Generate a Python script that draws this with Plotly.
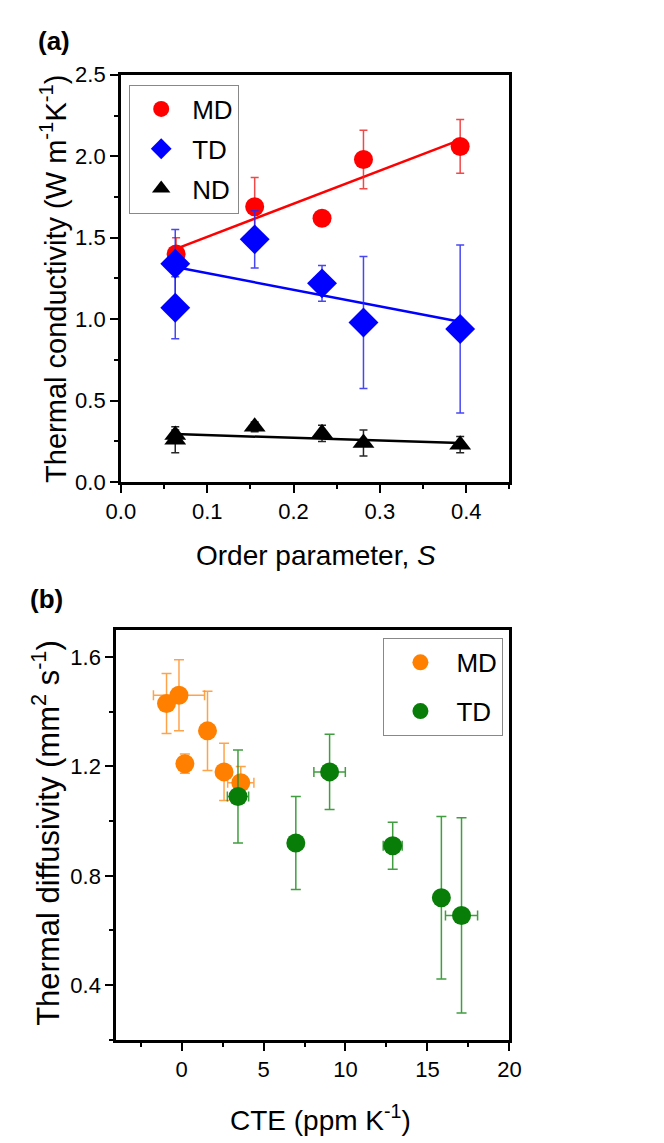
import plotly.graph_objects as go

# ---------------- Panel (a) data ----------------
md_s = [0.064, 0.155, 0.233, 0.281, 0.393]
md_k = [1.40, 1.69, 1.62, 1.98, 2.06]
md_k_err = [0.10, 0.18, 0.04, 0.18, 0.165]

td_s = [0.063, 0.063, 0.155, 0.233, 0.281, 0.393]
td_k = [1.34, 1.07, 1.49, 1.22, 0.98, 0.94]
td_k_err = [0.21, 0.19, 0.175, 0.11, 0.405, 0.515]

nd_s = [0.063, 0.063, 0.155, 0.233, 0.281, 0.393]
nd_k = [0.29, 0.26, 0.34, 0.30, 0.24, 0.23]
nd_k_err = [0.03, 0.08, 0.03, 0.05, 0.08, 0.05]

fit_s = [0.063, 0.393]
md_fit = [1.43, 2.10]
td_fit = [1.32, 0.985]
nd_fit = [0.295, 0.24]

# ---------------- Panel (b) data ----------------
md_cte = [-0.92, -0.16, 1.58, 0.20, 2.59, 3.61]
md_cte_err = [0.0, 1.56, 0.0, 0.0, 0.0, 0.80]
md_diff = [1.43, 1.46, 1.33, 1.21, 1.18, 1.14]
md_diff_err = [0.11, 0.13, 0.145, 0.035, 0.105, 0.06]

td_cte = [3.44, 6.97, 9.03, 12.88, 15.85, 17.08]
td_cte_err = [0.65, 0.0, 0.96, 0.58, 0.0, 0.98]
td_diff = [1.09, 0.92, 1.18, 0.91, 0.72, 0.655]
td_diff_err = [0.17, 0.17, 0.138, 0.086, 0.297, 0.357]

W, H = 664, 1143
RED, BLUE, BLACK = "#FF0000", "#0000FF", "#000000"
ORANGE, GREEN = "#FF8000", "#087D08"
REG = "Liberation Sans, Arial"

fig = go.Figure()

# fit lines (a)
for ys, c in [(md_fit, RED), (td_fit, BLUE), (nd_fit, BLACK)]:
    fig.add_trace(go.Scatter(x=fit_s, y=ys, mode="lines", line=dict(color=c, width=2.5),
                             showlegend=False, xaxis="x", yaxis="y", hoverinfo="skip"))

def eb(arr, color, w=4):
    return dict(type="data", array=arr, color=color, thickness=1.5, width=w, visible=True)

fig.add_trace(go.Scatter(x=md_s, y=md_k, mode="markers", name="MD", legendgroup="a1",
                         marker=dict(symbol="circle", size=19, color=RED),
                         error_y=eb(md_k_err, "rgba(240,40,40,0.85)"),
                         xaxis="x", yaxis="y", legend="legend"))
fig.add_trace(go.Scatter(x=td_s, y=td_k, mode="markers", name="TD", legendgroup="a2",
                         marker=dict(symbol="diamond", size=23, color=BLUE),
                         error_y=eb(td_k_err, "rgba(40,40,240,0.85)"),
                         xaxis="x", yaxis="y", legend="legend"))
fig.add_trace(go.Scatter(x=nd_s, y=nd_k, mode="markers", name="ND", legendgroup="a3",
                         marker=dict(symbol="triangle-up", size=19, color=BLACK),
                         error_y=eb(nd_k_err, "rgba(0,0,0,0.85)"),
                         xaxis="x", yaxis="y", legend="legend"))

# panel (b)
fig.add_trace(go.Scatter(x=md_cte, y=md_diff, mode="markers", name="MD", legendgroup="b1",
                         marker=dict(symbol="circle", size=19, color=ORANGE),
                         error_y=eb(md_diff_err, "rgba(255,140,30,0.8)", 5),
                         error_x=eb(md_cte_err, "rgba(255,140,30,0.8)", 5),
                         xaxis="x2", yaxis="y2", legend="legend2"))
fig.add_trace(go.Scatter(x=td_cte, y=td_diff, mode="markers", name="TD", legendgroup="b2",
                         marker=dict(symbol="circle", size=19, color=GREEN),
                         error_y=eb(td_diff_err, "rgba(30,140,30,0.85)", 5),
                         error_x=eb(td_cte_err, "rgba(30,140,30,0.85)", 5),
                         xaxis="x2", yaxis="y2", legend="legend2"))

tickfont = dict(family=REG, size=22, color="black")
common = dict(showline=True, linecolor="black", linewidth=2.5, mirror=True,
              ticks="outside", ticklen=8, tickwidth=2, tickcolor="black",
              showgrid=False, zeroline=False, tickfont=tickfont)

def px_x(p):
    return p / W

def px_y(p):
    return 1 - p / H

fig.update_layout(
    width=W, height=H,
    margin=dict(l=0, r=0, t=0, b=0),
    paper_bgcolor="white", plot_bgcolor="white",
    xaxis=dict(domain=[px_x(102), px_x(507)], range=[0, 0.45], dtick=0.1, tick0=0,
               tickformat=".1f", anchor="y",
               minor=dict(ticks="outside", ticklen=4, tickwidth=2, dtick=0.05, tick0=0, tickcolor="black"),
               **common),
    yaxis=dict(domain=[px_y(472.5), px_y(56)], range=[0, 2.5], dtick=0.5, tick0=0,
               tickformat=".1f", anchor="x",
               minor=dict(ticks="outside", ticklen=4, tickwidth=2, dtick=0.25, tick0=0, tickcolor="black"),
               **common),
    xaxis2=dict(domain=[px_x(97), px_x(507)], range=[-4, 20], dtick=5, tick0=0, anchor="y2",
                minor=dict(ticks="outside", ticklen=4, tickwidth=2, dtick=2.5, tick0=0, tickcolor="black"),
                **common),
    yaxis2=dict(domain=[px_y(1042.7), px_y(623.3)], range=[0.2, 1.7], dtick=0.4, tick0=0.4,
                tickformat=".1f", anchor="x2",
                minor=dict(ticks="outside", ticklen=4, tickwidth=2, dtick=0.2, tick0=0.2, tickcolor="black"),
                **common),
    legend=dict(x=px_x(110.7), y=px_y(66), xanchor="left", yanchor="top",
                bordercolor="#888888", borderwidth=1, bgcolor="white", tracegroupgap=3,
                font=dict(family=REG, size=26, color="black"), itemwidth=52),
    legend2=dict(x=px_x(375.7), y=px_y(631.7), xanchor="left", yanchor="top",
                 bordercolor="#888888", borderwidth=1, bgcolor="white", tracegroupgap=12,
                 font=dict(family=REG, size=26, color="black"), itemwidth=62),
)

annots = [
    dict(text="<b>(a)</b>", x=px_x(14), y=px_y(21), xanchor="left", yanchor="middle",
         font=dict(family=REG, size=26)),
    dict(text="<b>(b)</b>", x=px_x(5), y=px_y(592), xanchor="left", yanchor="middle",
         font=dict(family=REG, size=26)),
    dict(text="Thermal conductivity (W m<sup>-1</sup>K<sup>-1</sup>)", x=px_x(32), y=px_y(265),
         textangle=-90, xanchor="center", yanchor="middle", font=dict(family=REG, size=29)),
    dict(text="Order parameter, <i>S</i>", x=px_x(305), y=px_y(547),
         xanchor="center", yanchor="middle", font=dict(family=REG, size=28)),
    dict(text="Thermal diffusivity (mm<sup>2</sup> s<sup>-1</sup>)", x=px_x(24), y=px_y(831),
         textangle=-90, xanchor="center", yanchor="middle", font=dict(family=REG, size=31)),
    dict(text="CTE (ppm K<sup>-1</sup>)", x=px_x(310), y=px_y(1123),
         xanchor="center", yanchor="middle", font=dict(family=REG, size=28)),
]
for a in annots:
    a.update(xref="paper", yref="paper", showarrow=False)
    a["font"].setdefault("color", "black")
fig.update_layout(annotations=annots)

fig.write_html("out.html")
